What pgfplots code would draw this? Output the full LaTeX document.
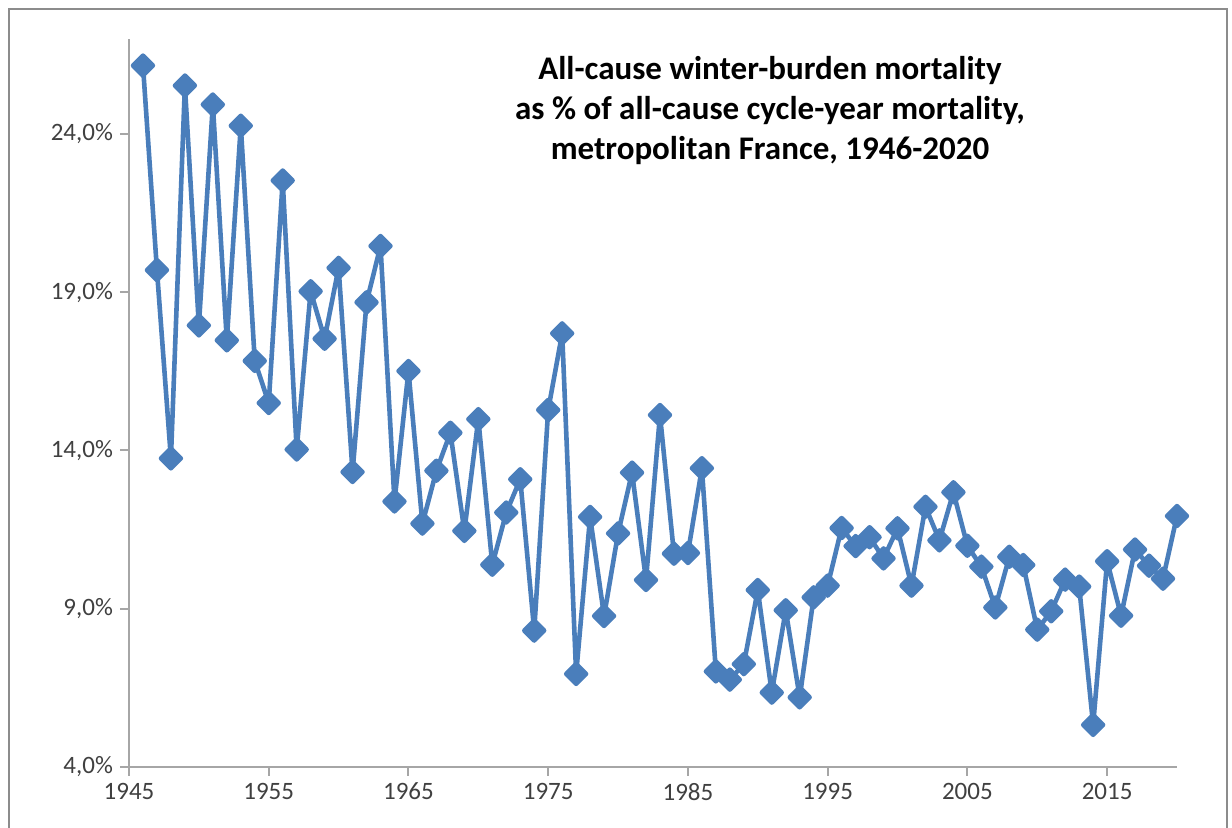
\documentclass[border=0pt]{standalone}
\usepackage{pgfplots}
\pgfplotsset{compat=1.18}
\usepackage{fontspec}
\setmainfont{Carlito}
\definecolor{xlblue}{HTML}{4A7EBB}
\definecolor{axgray}{HTML}{A6A6A6}
\definecolor{framegray}{HTML}{8C8C8C}
\definecolor{lblgray}{HTML}{404040}
\begin{document}
\begin{tikzpicture}
\path[use as bounding box] (0,0) rectangle (616pt,414pt);
\draw[framegray, line width=0.8pt] (4.5pt,-5pt) -- (4.5pt,409.5pt) -- (613.5pt,409.5pt) -- (613.5pt,-5pt);
\begin{axis}[
  at={(64.5pt,30.5pt)}, anchor=south west,
  width=524pt, height=364pt, scale only axis,
  xmin=1945, xmax=2020, ymin=4, ymax=27,
  axis x line*=bottom, axis y line*=left,
  xtick={1945,1955,1965,1975,1985,1995,2005,2015},
  xticklabels={1945,1955,1965,1975,1985,1995,2005,2015},
  ytick={4,9,14,19,24},
  yticklabels={{4,0\%},{9,0\%},{14,0\%},{19,0\%},{24,0\%}},
  tick align=outside, major tick length=4.5pt,
  axis line style={axgray, line width=1pt},
  tick style={axgray, line width=1pt},
  ticklabel style={font=\fontsize{12.5}{14}\selectfont, text=lblgray},
  clip=false,
]
\addplot[xlblue, line width=2.3pt, line join=round, mark=square*, mark size=3.5pt, mark options={rotate=45, solid, fill=xlblue}] coordinates {
(1946,26.16) (1947,19.70) (1948,13.75) (1949,25.53) (1950,17.95)
(1951,24.93) (1952,17.48) (1953,24.26) (1954,16.83) (1955,15.50)
(1956,22.53) (1957,14.03) (1958,19.03) (1959,17.53) (1960,19.77)
(1961,13.32) (1962,18.68) (1963,20.46) (1964,12.39) (1965,16.51)
(1966,11.69) (1967,13.36) (1968,14.56) (1969,11.46) (1970,14.99)
(1971,10.39) (1972,12.04) (1973,13.09) (1974,8.31) (1975,15.28)
(1976,17.70) (1977,6.94) (1978,11.90) (1979,8.77) (1980,11.38)
(1981,13.30) (1982,9.91) (1983,15.12) (1984,10.74) (1985,10.76)
(1986,13.44) (1987,7.02) (1988,6.76) (1989,7.25) (1990,9.59)
(1991,6.35) (1992,8.95) (1993,6.20) (1994,9.36) (1995,9.73)
(1996,11.55) (1997,10.98) (1998,11.26) (1999,10.59) (2000,11.54)
(2001,9.73) (2002,12.22) (2003,11.16) (2004,12.68) (2005,10.99)
(2006,10.33) (2007,9.04) (2008,10.64) (2009,10.38) (2010,8.34)
(2011,8.92) (2012,9.92) (2013,9.70) (2014,5.33) (2015,10.50)
(2016,8.78) (2017,10.87) (2018,10.36) (2019,9.95) (2020,11.93)
};
\end{axis}
\node[align=center, inner sep=0pt, anchor=north, font=\fontsize{16.5}{20}\selectfont\bfseries] at (385pt,386pt)
  {All-cause winter-burden mortality\\as \% of all-cause cycle-year mortality,\\metropolitan France, 1946-2020};
\end{tikzpicture}
\end{document}
